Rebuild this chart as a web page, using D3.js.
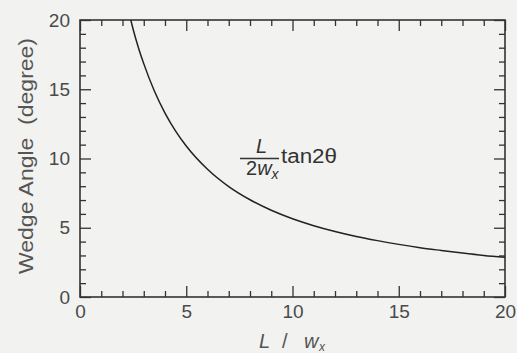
<!DOCTYPE html>
<html>
<head>
<meta charset="utf-8">
<script src="https://cdn.jsdelivr.net/npm/d3@7"></script>
<style>
  html, body { margin: 0; padding: 0; background: #f2f2f0; }
  svg { display: block; }
  text { font-family: "Liberation Sans", Arial, Helvetica, sans-serif; }
</style>
</head>
<body>
<svg id="chart" width="517" height="353"></svg>
<script>
// Wedge angle (degrees) against the length ratio L / w_x
const ratio = [2.39, 2.5, 2.75, 3, 3.5, 4, 4.5, 5, 6, 7, 8, 9, 10, 11, 12, 13, 14, 15, 16, 17, 18, 19, 20];
const angle = [20.0, 19.33, 18.0, 16.85, 14.87, 13.28, 11.98, 10.9, 9.22, 7.97, 7.02, 6.26, 5.65, 5.15, 4.73, 4.37, 4.07, 3.8, 3.56, 3.36, 3.17, 3.0, 2.86];

const xMajor = [0, 5, 10, 15, 20];
const yMajor = [0, 5, 10, 15, 20];
const minorTicks = d3.range(0, 21).filter(v => v % 5 !== 0);

const svg = d3.select("#chart");
const plotL = 80, plotR = 505, plotT = 20, plotB = 297;

const x = d3.scaleLinear().domain([0, 20]).range([plotL, plotR]);
const y = d3.scaleLinear().domain([0, 20]).range([plotB, plotT]);

const ink = "#333";
const labelInk = "#4a4a4a";

function styleAxis(g) {
  g.select(".domain").remove();
  g.selectAll(".tick line").attr("stroke", ink).attr("stroke-width", 1.3);
  g.selectAll(".tick text")
    .attr("fill", labelInk)
    .style("font-size", "19px")
    .style("font-family", "'Liberation Sans', Arial, sans-serif");
}

// bottom axis: labelled majors and inward minors
svg.append("g").attr("transform", `translate(0,${plotB})`)
  .call(d3.axisBottom(x).tickValues(xMajor).tickSize(-11).tickSizeOuter(0).tickPadding(8))
  .call(styleAxis);
svg.append("g").attr("transform", `translate(0,${plotB})`)
  .call(d3.axisBottom(x).tickValues(minorTicks).tickSize(-6).tickSizeOuter(0).tickFormat(""))
  .call(styleAxis);

// top axis (ticks only)
svg.append("g").attr("transform", `translate(0,${plotT})`)
  .call(d3.axisTop(x).tickValues(xMajor).tickSize(-11).tickSizeOuter(0).tickFormat(""))
  .call(styleAxis);
svg.append("g").attr("transform", `translate(0,${plotT})`)
  .call(d3.axisTop(x).tickValues(minorTicks).tickSize(-6).tickSizeOuter(0).tickFormat(""))
  .call(styleAxis);

// left axis
svg.append("g").attr("transform", `translate(${plotL},0)`)
  .call(d3.axisLeft(y).tickValues(yMajor).tickSize(-11).tickSizeOuter(0).tickPadding(10))
  .call(styleAxis);
svg.append("g").attr("transform", `translate(${plotL},0)`)
  .call(d3.axisLeft(y).tickValues(minorTicks).tickSize(-6).tickSizeOuter(0).tickFormat(""))
  .call(styleAxis);

// right axis (ticks only)
svg.append("g").attr("transform", `translate(${plotR},0)`)
  .call(d3.axisRight(y).tickValues(yMajor).tickSize(-11).tickSizeOuter(0).tickFormat(""))
  .call(styleAxis);
svg.append("g").attr("transform", `translate(${plotR},0)`)
  .call(d3.axisRight(y).tickValues(minorTicks).tickSize(-6).tickSizeOuter(0).tickFormat(""))
  .call(styleAxis);

// plot frame
svg.append("rect")
  .attr("x", plotL).attr("y", plotT)
  .attr("width", plotR - plotL).attr("height", plotB - plotT)
  .attr("fill", "none").attr("stroke", ink).attr("stroke-width", 1.6);

// curve
svg.append("clipPath").attr("id", "plotClip")
  .append("rect").attr("x", plotL).attr("y", plotT)
  .attr("width", plotR - plotL).attr("height", plotB - plotT);

const pts = ratio.map((r, i) => [r, angle[i]]);
svg.append("path")
  .datum(pts)
  .attr("clip-path", "url(#plotClip)")
  .attr("fill", "none")
  .attr("stroke", "#222")
  .attr("stroke-width", 1.5)
  .attr("d", d3.line().x(d => x(d[0])).y(d => y(d[1])).curve(d3.curveMonotoneX));

// y-axis title
svg.append("text")
  .attr("transform", `translate(33,156) rotate(-90)`)
  .attr("text-anchor", "middle")
  .attr("fill", "#555")
  .style("font-size", "21px")
  .attr("textLength", 236)
  .attr("lengthAdjust", "spacingAndGlyphs")
  .attr("xml:space", "preserve")
  .text("Wedge Angle  (degree)");

// x-axis title: L / w_x
const xt = svg.append("text").attr("fill", "#555").style("font-size", "20px");
xt.append("tspan").attr("x", 259).attr("y", 348).style("font-style", "italic").text("L");
xt.append("tspan").attr("x", 282).attr("y", 348).text("/");
xt.append("tspan").attr("x", 304).attr("y", 348).style("font-style", "italic").text("w");
xt.append("tspan").attr("x", 319).attr("y", 351).style("font-style", "italic").style("font-size", "12px").text("x");

// annotation: (L / 2w_x) tan2θ
const ann = svg.append("g").attr("fill", "#333");
ann.append("text").attr("x", 256).attr("y", 153)
  .style("font-size", "20px").style("font-style", "italic").text("L");
ann.append("line").attr("x1", 240).attr("x2", 279).attr("y1", 158.5).attr("y2", 158.5)
  .attr("stroke", "#333").attr("stroke-width", 1.3);
const den = ann.append("text").attr("x", 246).attr("y", 175).style("font-size", "20px");
den.append("tspan").text("2");
den.append("tspan").style("font-style", "italic").text("w");
den.append("tspan").attr("dy", 4).style("font-style", "italic").style("font-size", "14px").text("x");
ann.append("text").attr("x", 281).attr("y", 163)
  .style("font-size", "20px").attr("textLength", 56).attr("lengthAdjust", "spacingAndGlyphs")
  .text("tan2θ");
</script>
</body>
</html>
